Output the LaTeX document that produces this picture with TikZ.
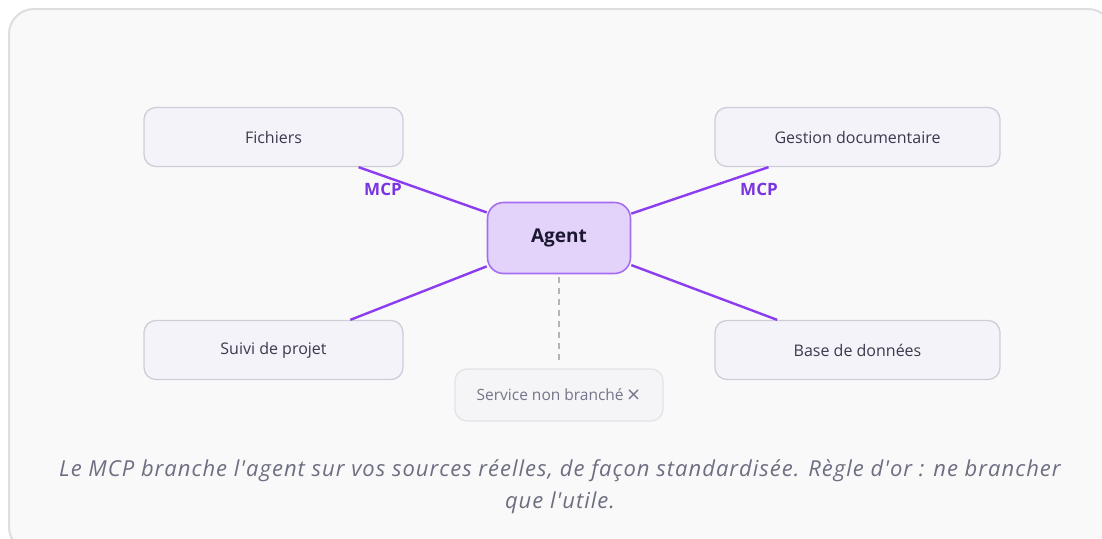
\documentclass[tikz,border=0pt]{standalone}
\usepackage{fontspec}
\setmainfont{Open Sans}
\newfontfamily\capfont{Open Sans}[Ligatures=TeXOff, LetterSpace=4.6]
\newfontfamily\crossfont{DejaVu Sans}
\definecolor{framefill}{HTML}{F9F9FA}
\definecolor{frameline}{HTML}{DEDEE0}
\definecolor{boxfill}{HTML}{F4F3FA}
\definecolor{boxline}{HTML}{CFCDD8}
\definecolor{boxtext}{HTML}{3A3A4C}
\definecolor{agentfill}{HTML}{E3D3FB}
\definecolor{agentline}{HTML}{A56EF2}
\definecolor{agenttext}{HTML}{1B1730}
\definecolor{mcp}{HTML}{8B3DEF}
\definecolor{mcptext}{HTML}{7A35E0}
\definecolor{offfill}{HTML}{F5F5F7}
\definecolor{offline}{HTML}{E4E4E8}
\definecolor{offtext}{HTML}{74748A}
\definecolor{dashgray}{HTML}{B4B4BC}
\definecolor{caption}{HTML}{6E6E82}
\tikzset{
  srcbox/.style={draw=boxline, line width=1.3pt, fill=boxfill, rounded corners=12pt,
    minimum height=59pt, text=boxtext, font=\fontsize{16}{19}\selectfont, inner sep=0pt},
  agentbox/.style={draw=agentline, line width=1.6pt, fill=agentfill, rounded corners=16pt,
    minimum width=143pt, minimum height=71pt, text=agenttext, font=\fontsize{19}{23}\selectfont\bfseries},
  offbox/.style={draw=offline, line width=1.3pt, fill=offfill, rounded corners=12pt,
    minimum width=208pt, minimum height=52pt, text=offtext, font=\fontsize{15.5}{18}\selectfont},
  link/.style={draw=mcp, line width=2.4pt},
  offlink/.style={draw=dashgray, line width=1.6pt, dash pattern=on 6pt off 5pt},
  mcplabel/.style={text=mcptext, font=\fontsize{17}{20}\selectfont\bfseries, inner sep=0pt},
}
\begin{document}
\begin{tikzpicture}[x=1pt,y=-1pt]
\useasboundingbox (0,0) rectangle (1102,538);
\fill[white] (0,0) rectangle (1102,538);
\begin{scope}
\clip (0,0) rectangle (1102,538);
\draw[draw=frameline, line width=2pt, fill=framefill, rounded corners=25pt] (9,9) rectangle (1113,552);
\end{scope}

\node[srcbox, minimum width=259pt] (fich) at (273.5,137) {Fichiers};
\node[srcbox, minimum width=285pt] (gest) at (857.5,137) {Gestion documentaire};
\node[srcbox, minimum width=259pt] (suivi) at (273.5,350) {Suivi de projet};
\node[srcbox, minimum width=285pt] (base) at (857.5,350) {Base de données};
\node[offbox] (off) at (559,395) {Service non branché\,\raisebox{0pt}{\crossfont\fontsize{18}{20}\selectfont ×}};
\node[agentbox] (agent) at (559,238) {Agent};

\draw[link] (agent) -- (fich);
\draw[link] (agent) -- (gest);
\draw[link] (agent) -- (suivi);
\draw[link] (agent) -- (base);
\coordinate (dashend) at (559,360);
\draw[offlink] ([yshift=-3pt]agent.south) -- (dashend);

\node[mcplabel] (mcp1) at (383,189) {MCP};
\node[mcplabel] (mcp2) at (759,189) {MCP};

\node[text=caption, font=\capfont\fontsize{22}{32}\selectfont\itshape, align=center] (cap) at (560,487)
  {Le MCP branche l'agent sur vos sources réelles, de façon standardisée. Règle d'or : ne brancher\\que l'utile.};
\end{tikzpicture}
\end{document}
